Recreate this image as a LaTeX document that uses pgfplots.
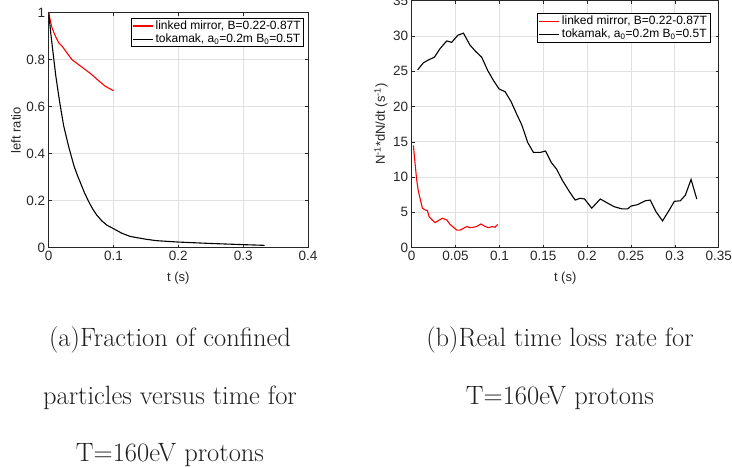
\documentclass[border=0pt]{standalone}
\usepackage{fontspec}
\usepackage{pgfplots}
\pgfplotsset{compat=1.18}
\newfontfamily\axisfont{Liberation Sans}
\definecolor{axgray}{rgb}{0.15,0.15,0.15}
\definecolor{gridgray}{RGB}{224,224,224}
\pgfplotsset{
  legend image code/.code={\draw[#1, line width=1.2pt] (0pt,0pt) -- (20pt,0pt);},
  mstyle/.style={
    scale only axis,
    axis line style={axgray, line width=0.7pt},
    tick style={axgray, line width=0.6pt},
    tick align=inside, tick pos=both,
    major tick length=3pt,
    grid=major,
    major grid style={gridgray, line width=0.7pt},
    every tick label/.append style={font=\axisfont\fontsize{13.5}{15}\selectfont, text=axgray},
    /pgf/number format/assume math mode=true,
    /pgf/number format/fixed,
    /pgf/number format/precision=2,
    legend style={font=\axisfont\fontsize{12}{14}\selectfont, draw=black, line width=0.6pt, fill=white,
      inner xsep=1pt, inner ysep=0.5pt, cells={anchor=west}, row sep=-1pt},
    every axis plot/.append style={line width=1.1pt},
  }
}
\begin{document}
\begin{tikzpicture}
\path[use as bounding box] (0pt,0pt) rectangle (732pt,467pt);
% left
\begin{axis}[mstyle,
  at={(48.7pt,219.3pt)}, anchor=south west,
  width=259.3pt, height=235pt,
  xmin=0, xmax=0.4, ymin=0, ymax=1,
  xtick={0,0.1,0.2,0.3,0.4}, ytick={0,0.2,0.4,0.6,0.8,1},
  xlabel={t (s)}, ylabel={left ratio},
  every axis x label/.style={at={(axis description cs:0.5,-0.129)}, anchor=center, font=\axisfont\fontsize{13}{15}\selectfont, text=axgray},
  every axis y label/.style={at={(axis description cs:-0.126,0.5)}, anchor=center, rotate=90, font=\axisfont\fontsize{13}{15}\selectfont, text=axgray},
  legend style={at={(axis description cs:0.9846,0.977)}, anchor=north east},
]
\addplot[red] coordinates {
(0,1) (0.0026,0.964) (0.0051,0.936) (0.0103,0.900) (0.0154,0.872) (0.0205,0.858)
(0.0282,0.829) (0.0359,0.800) (0.0462,0.779) (0.0564,0.758) (0.0667,0.736)
(0.0769,0.711) (0.0872,0.687) (0.1,0.668)};
\addlegendentry{linked mirror, B=0.22-0.87T}
\addplot[black] coordinates {
(0,1) (0.0033,0.91) (0.0067,0.83) (0.0110,0.73) (0.0169,0.62) (0.0230,0.52)
(0.0308,0.43) (0.0390,0.348) (0.0440,0.31) (0.0487,0.278) (0.0550,0.235) (0.0615,0.197)
(0.0680,0.164) (0.0744,0.138) (0.0820,0.114) (0.0897,0.096) (0.1,0.081) (0.1125,0.062)
(0.1256,0.048) (0.15,0.036) (0.166,0.030) (0.2,0.024) (0.25,0.018) (0.3,0.013) (0.333,0.010)};
\addlegendentry{tokamak, a\textsubscript{0}=0.2m B\textsubscript{0}=0.5T}
\end{axis}
% right
\begin{axis}[mstyle,
  at={(411.7pt,219.3pt)}, anchor=south west,
  width=307pt, height=247pt,
  xmin=0, xmax=0.35, ymin=0, ymax=35,
  xtick={0,0.05,0.1,0.15,0.2,0.25,0.3,0.35}, ytick={0,5,10,15,20,25,30,35},
  xlabel={t (s)}, ylabel={N\textsuperscript{-1}*dN/dt (s\textsuperscript{-1})},
  every axis x label/.style={at={(axis description cs:0.5,-0.123)}, anchor=center, font=\axisfont\fontsize{13}{15}\selectfont, text=axgray},
  every axis y label/.style={at={(axis description cs:-0.1,0.5)}, anchor=center, rotate=90, font=\axisfont\fontsize{13}{15}\selectfont, text=axgray},
  legend style={at={(axis description cs:0.9727,0.949)}, anchor=north east},
]
\addplot[red] coordinates {
(0.0019,14.5) (0.0038,12.0) (0.0057,9.6) (0.0076,8.0) (0.0095,7.0) (0.0122,5.6)
(0.0152,5.36) (0.0180,5.26) (0.0198,4.4) (0.0228,4.0) (0.0266,3.55) (0.0304,3.84)
(0.0350,4.17) (0.0400,3.93) (0.0437,3.3) (0.0475,2.9) (0.0513,2.5) (0.0551,2.5)
(0.0590,2.75) (0.0627,3.0) (0.0665,2.84) (0.0703,2.9) (0.0740,3.0) (0.0790,3.36)
(0.0837,3.0) (0.0875,2.84) (0.0920,3.0) (0.0950,2.9) (0.0980,3.3)};
\addlegendentry{linked mirror, B=0.22-0.87T}
\addplot[black] coordinates {
(0.0068,25.2) (0.0133,26.2) (0.0190,26.6) (0.0259,27.0) (0.0323,28.2) (0.0399,29.3)
(0.0456,29.1) (0.0525,30.1) (0.0590,30.4) (0.0665,28.7) (0.0730,27.8) (0.0798,27.0)
(0.0867,25.1) (0.0932,23.7) (0.0996,22.5) (0.1065,22.1) (0.1133,20.7) (0.1198,18.9)
(0.1255,17.4) (0.1323,14.9) (0.1388,13.5) (0.1464,13.5) (0.1526,13.7) (0.1590,12.1)
(0.1654,11.1) (0.1715,9.6) (0.1800,7.9) (0.1864,6.75) (0.1920,7.0) (0.1970,6.9)
(0.2053,5.6) (0.2150,6.9) (0.2236,6.3) (0.2310,5.8) (0.2398,5.5) (0.2463,5.5)
(0.2500,5.9) (0.2576,6.1) (0.2664,6.65) (0.2720,6.75) (0.2785,5.1) (0.2860,3.8)
(0.2937,5.35) (0.2994,6.57) (0.3063,6.65) (0.3120,7.45) (0.3185,9.67) (0.3250,6.9)};
\addlegendentry{tokamak, a\textsubscript{0}=0.2m B\textsubscript{0}=0.5T}
\end{axis}
% captions
\begin{scope}[every node/.style={anchor=base, inner sep=0pt, text=black!88, font=\fontsize{26.5}{30}\selectfont}]
\node at (170pt,121pt) {(a)Fraction of confined};
\node at (170pt,63pt) {particles versus time for};
\node at (170pt,6pt) {T=160eV protons};
\node at (560pt,121pt) {(b)Real time loss rate for};
\node at (560pt,63pt) {T=160eV protons};
\end{scope}
\end{tikzpicture}
\end{document}
